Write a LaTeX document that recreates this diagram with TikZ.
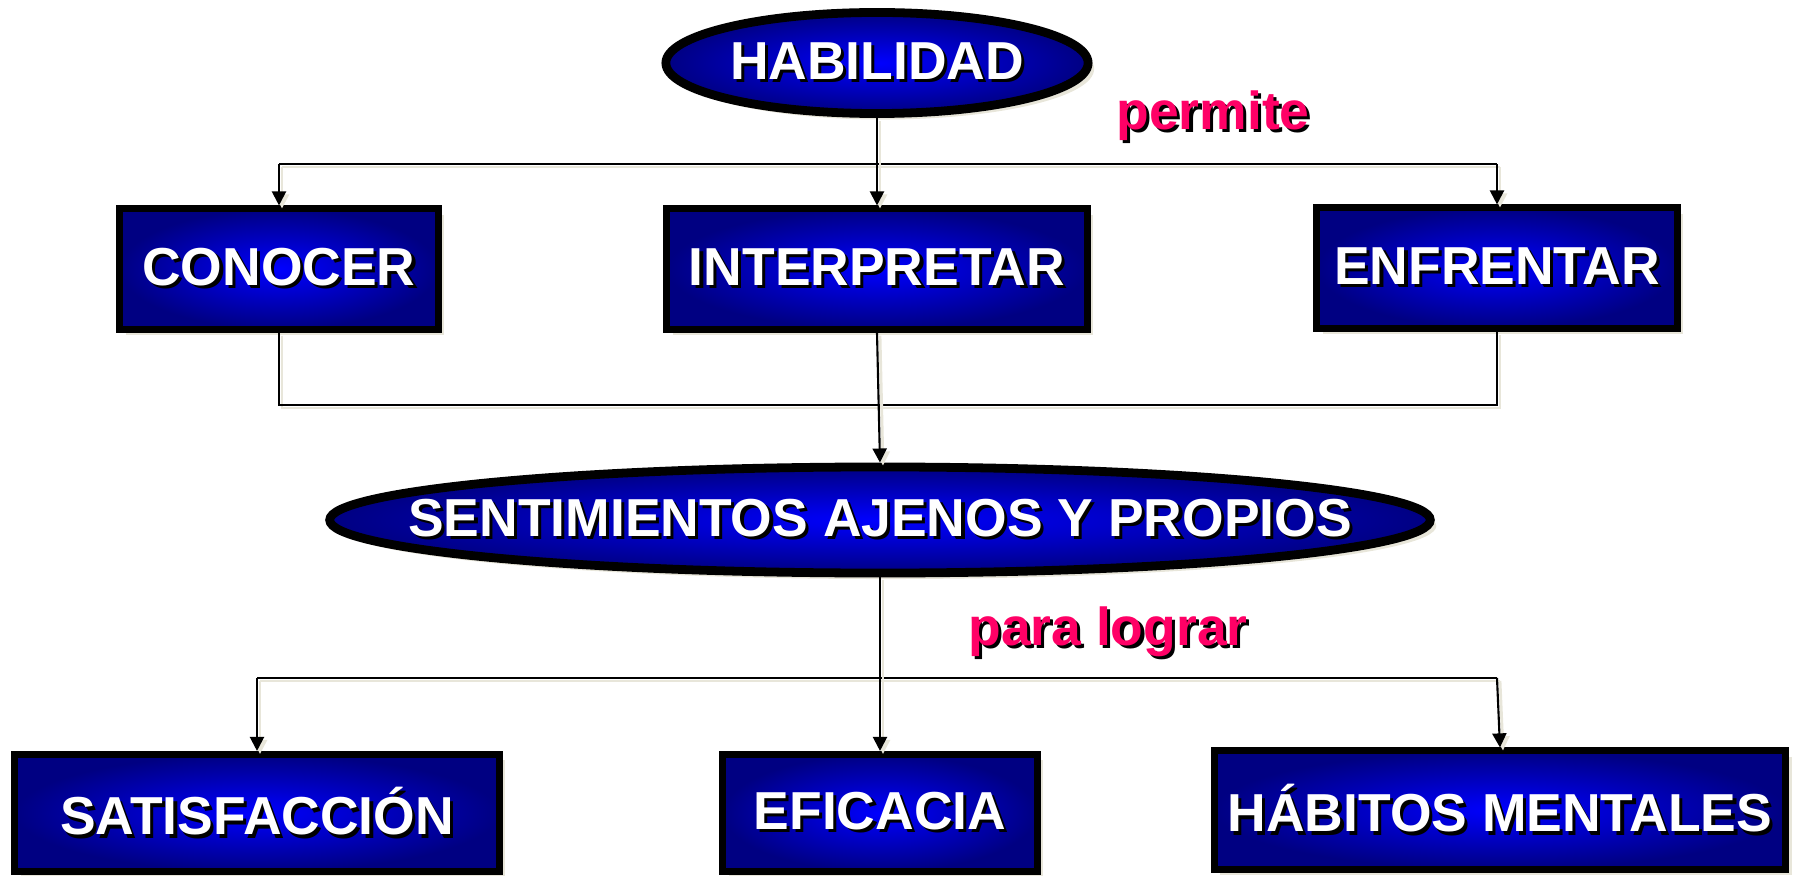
\documentclass[tikz,border=0pt]{standalone}
\usepackage{fontspec}
\setmainfont{Liberation Sans}
\usetikzlibrary{shapes.geometric,shadows,arrows.meta}

\definecolor{navy}{RGB}{0,0,130}
\definecolor{shadowcol}{RGB}{232,230,218}
\definecolor{pinktext}{RGB}{255,0,102}

% white (or coloured) text with a small black shadow
\newcommand{\shtext}[2]{\rlap{\kern0.9pt\raisebox{-0.9pt}{\color{black}#2}}\textcolor{#1}{#2}}

\tikzset{
  bluebox/.style={rectangle,draw=black,line width=2pt,shading=radial,
    inner color=blue,outer color=navy,
    drop shadow={shadow xshift=0.06cm,shadow yshift=-0.06cm,fill=shadowcol,opacity=1},
    font=\fontsize{15.2pt}{18pt}\selectfont\bfseries},
  blueoval/.style={bluebox,ellipse,inner sep=0pt,line width=2.5pt},
  linklabel/.style={font=\fontsize{15.2pt}{18pt}\selectfont\bfseries},
  conn/.style={line width=0.6pt,>={Triangle[length=4pt,width=4pt]},
    preaction={draw=shadowcol,line width=0.8pt,transform canvas={shift={(0.03cm,-0.03cm)}}}}
}

\begin{document}
\begin{tikzpicture}[x=0.01cm,y=-0.01cm]
  \useasboundingbox (0,0) rectangle (1796,876);
  % top
  \node[blueoval,minimum width=4.22cm,minimum height=1.01cm] (hab) at (877,63) {\makebox[0pt]{\shtext{white}{HABILIDAD}}};
  \node[linklabel] (perm) at (1213,117) {\shtext{pinktext}{permite}};
  % row 1
  \node[bluebox,minimum width=3.18cm,minimum height=1.2cm] (con) at (279,269) {\shtext{white}{CONOCER}};
  \node[bluebox,minimum width=4.2cm,minimum height=1.2cm] (int) at (877,269) {\shtext{white}{INTERPRETAR}};
  \node[bluebox,minimum width=3.6cm,minimum height=1.2cm] (enf) at (1497,268) {\shtext{white}{ENFRENTAR}};
  % middle
  \node[blueoval,minimum width=11.0cm,minimum height=1.06cm] (sent) at (880,520) {\makebox[0pt]{\shtext{white}{SENTIMIENTOS AJENOS Y PROPIOS}}};
  \node[linklabel] (lograr) at (1108,633) {\shtext{pinktext}{para lograr}};
  % row 2
  \node[bluebox,minimum width=4.84cm,minimum height=1.17cm] (sat) at (257,813) {\shtext{white}{SATISFACCIÓN}};
  \node[bluebox,minimum width=3.14cm,minimum height=1.17cm] (efi) at (880,813) {\shtext{white}{EFICACIA}};
  \node[bluebox,minimum width=5.71cm,minimum height=1.18cm] (hm) at (1500,810) {\shtext{white}{HÁBITOS MENTALES}};
  % links from HABILIDAD
  \coordinate (t1) at (279,164);
  \coordinate (t2) at (1497,164);
  \draw[conn] (t1) -- (t2);
  \draw[conn,->] (hab) -- (int);
  \draw[conn,->] (t1) -- (con.north);
  \draw[conn,->] (t2) -- (enf.north);
  % links to SENTIMIENTOS
  \coordinate (m1) at (279,405);
  \coordinate (m2) at (1497,405);
  \draw[conn] (con.south) -- (m1) -- (m2) -- (enf.south);
  \draw[conn,->] (int.south) -- (sent.north);
  % links from SENTIMIENTOS
  \coordinate (b1) at (257,678);
  \coordinate (b2) at (1497,678);
  \draw[conn] (b1) -- (b2);
  \draw[conn,->] (sent) -- (efi);
  \draw[conn,->] (b1) -- (sat.north);
  \draw[conn,->] (b2) -- (hm.north);
\end{tikzpicture}
\end{document}
